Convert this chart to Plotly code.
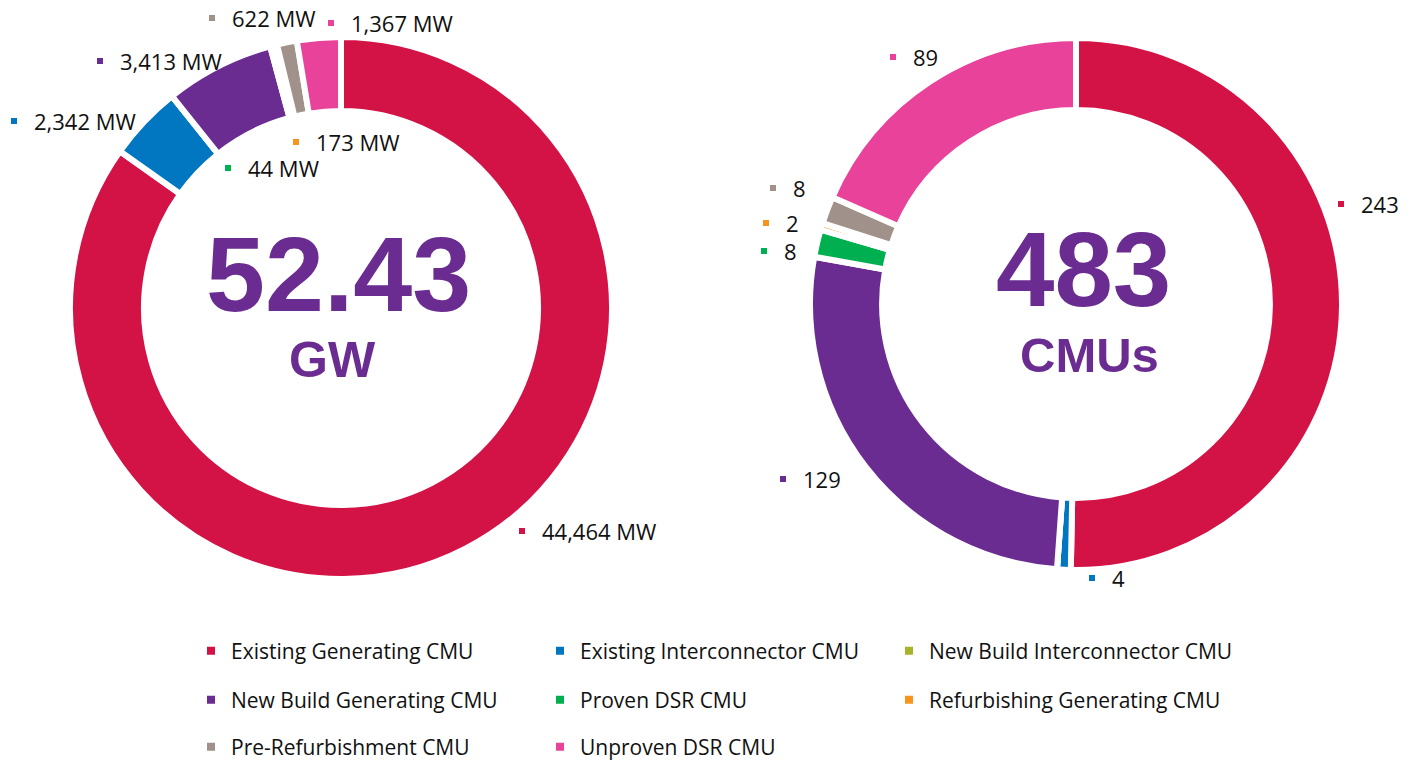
import plotly.graph_objects as go

W, H = 1413, 760

# ---------------- data ----------------
CATEGORIES = [
    "Existing Generating CMU",
    "Existing Interconnector CMU",
    "New Build Interconnector CMU",
    "New Build Generating CMU",
    "Proven DSR CMU",
    "Refurbishing Generating CMU",
    "Pre-Refurbishment CMU",
    "Unproven DSR CMU",
]
CAPACITY_MW = [44464, 2342, 0, 3413, 44, 173, 622, 1367]
CMU_COUNT = [243, 4, 0, 129, 8, 2, 8, 89]

# ---------------- style ----------------
COLORS = ["#D31245", "#0077C0", "#A8B32A", "#6A2C91",
          "#00B050", "#F7941D", "#A0918A", "#E8429A"]
PURPLE = "#6A2C91"
TEXT_FONT = "Open Sans"

# label marker positions (pixels, marker centre) for each category, None = no label
LEFT_LABEL_POS = [(522, 531), (14, 121), None, (100, 61), (228, 168),
                  (296, 142), (212, 18), (331, 23)]
RIGHT_LABEL_POS = [(1341, 204), (1092, 578), None, (783, 479), (764, 251),
                   (766, 223), (773, 188), (893, 57)]

LEFT_C, LEFT_R = (341, 308), 271
RIGHT_C, RIGHT_R = (1076, 304), 266


def domain(c, r):
    cx, cy = c
    return dict(x=[(cx - r) / W, (cx + r) / W],
                y=[1 - (cy + r) / H, 1 - (cy - r) / H])


fig = go.Figure()

fig.add_trace(go.Pie(
    labels=CATEGORIES, values=CAPACITY_MW, sort=False, direction="clockwise",
    rotation=0, hole=0.727, textinfo="none", showlegend=False,
    marker=dict(colors=COLORS, line=dict(color="white", width=6)),
    domain=domain(LEFT_C, LEFT_R), hovertemplate="%{label}: %{value:,} MW<extra></extra>",
))
fig.add_trace(go.Pie(
    labels=CATEGORIES, values=CMU_COUNT, sort=False, direction="clockwise",
    rotation=0, hole=0.729, textinfo="none", showlegend=False,
    marker=dict(colors=COLORS, line=dict(color="white", width=6)),
    domain=domain(RIGHT_C, RIGHT_R), hovertemplate="%{label}: %{value}<extra></extra>",
))

# legend entries (three rows -> three legends)
legend_rows = ["legend", "legend", "legend", "legend2", "legend2", "legend2", "legend3", "legend3"]
for name, col, lg in zip(CATEGORIES, COLORS, legend_rows):
    fig.add_trace(go.Scatter(
        x=[None], y=[None], mode="markers", name=name, legend=lg,
        marker=dict(symbol="square", size=8, color=col), hoverinfo="skip",
    ))

# data labels
annotations = []
mx, my, mc = [], [], []
for vals, positions, fmt in [
    (CAPACITY_MW, LEFT_LABEL_POS, lambda v: f"{v:,} MW"),
    (CMU_COUNT, RIGHT_LABEL_POS, lambda v: f"{v:,}"),
]:
    for v, pos, col in zip(vals, positions, COLORS):
        if pos is None or v == 0:
            continue
        mx.append(pos[0]); my.append(pos[1]); mc.append(col)
        annotations.append(dict(
            x=pos[0] + 18, y=pos[1], xref="x", yref="y", xanchor="left", yanchor="middle",
            text=fmt(v), showarrow=False, font=dict(family=TEXT_FONT, size=22, color="#111111"),
        ))
fig.add_trace(go.Scatter(
    x=mx, y=my, mode="markers", showlegend=False, hoverinfo="skip",
    marker=dict(symbol="square", size=6, color=mc),
))

# centre totals (round half up)
total_gw = int(sum(CAPACITY_MW) / 10 + 0.5) / 100
total_cmu = sum(CMU_COUNT)
big = dict(family="Liberation Sans", color=PURPLE)
annotations += [
    dict(x=338, y=274, xref="x", yref="y", text=f"<b>{total_gw:.2f}</b>", showarrow=False,
         font=dict(size=106, **big), xanchor="center", yanchor="middle"),
    dict(x=332, y=360, xref="x", yref="y", text="<b>GW</b>", showarrow=False,
         font=dict(size=50, **big), xanchor="center", yanchor="middle"),
    dict(x=1083, y=269, xref="x", yref="y", text=f"<b>{total_cmu}</b>", showarrow=False,
         font=dict(size=105, **big), xanchor="center", yanchor="middle"),
    dict(x=1089, y=355, xref="x", yref="y", text="<b>CMUs</b>", showarrow=False,
         font=dict(size=49, **big), xanchor="center", yanchor="middle"),
]

leg_common = dict(orientation="h", xanchor="left", yanchor="middle", x=191 / W,
                  entrywidth=304, entrywidthmode="pixels", bgcolor="rgba(0,0,0,0)",
                  font=dict(family=TEXT_FONT, size=21, color="#111111"), itemclick=False)

fig.update_layout(
    width=W, height=H,
    margin=dict(l=0, r=0, t=0, b=0, autoexpand=False),
    paper_bgcolor="white", plot_bgcolor="white",
    xaxis=dict(range=[0, W], visible=False, domain=[0, 1], fixedrange=True),
    yaxis=dict(range=[H, 0], visible=False, domain=[0, 1], fixedrange=True),
    annotations=annotations,
    legend=dict(y=1 - 651 / H, **leg_common),
    legend2=dict(y=1 - 700 / H, **leg_common),
    legend3=dict(y=1 - 747 / H, **leg_common),
)

fig.write_html("out.html", config={"displayModeBar": False},
               post_script="document.body.style.margin='0';")
